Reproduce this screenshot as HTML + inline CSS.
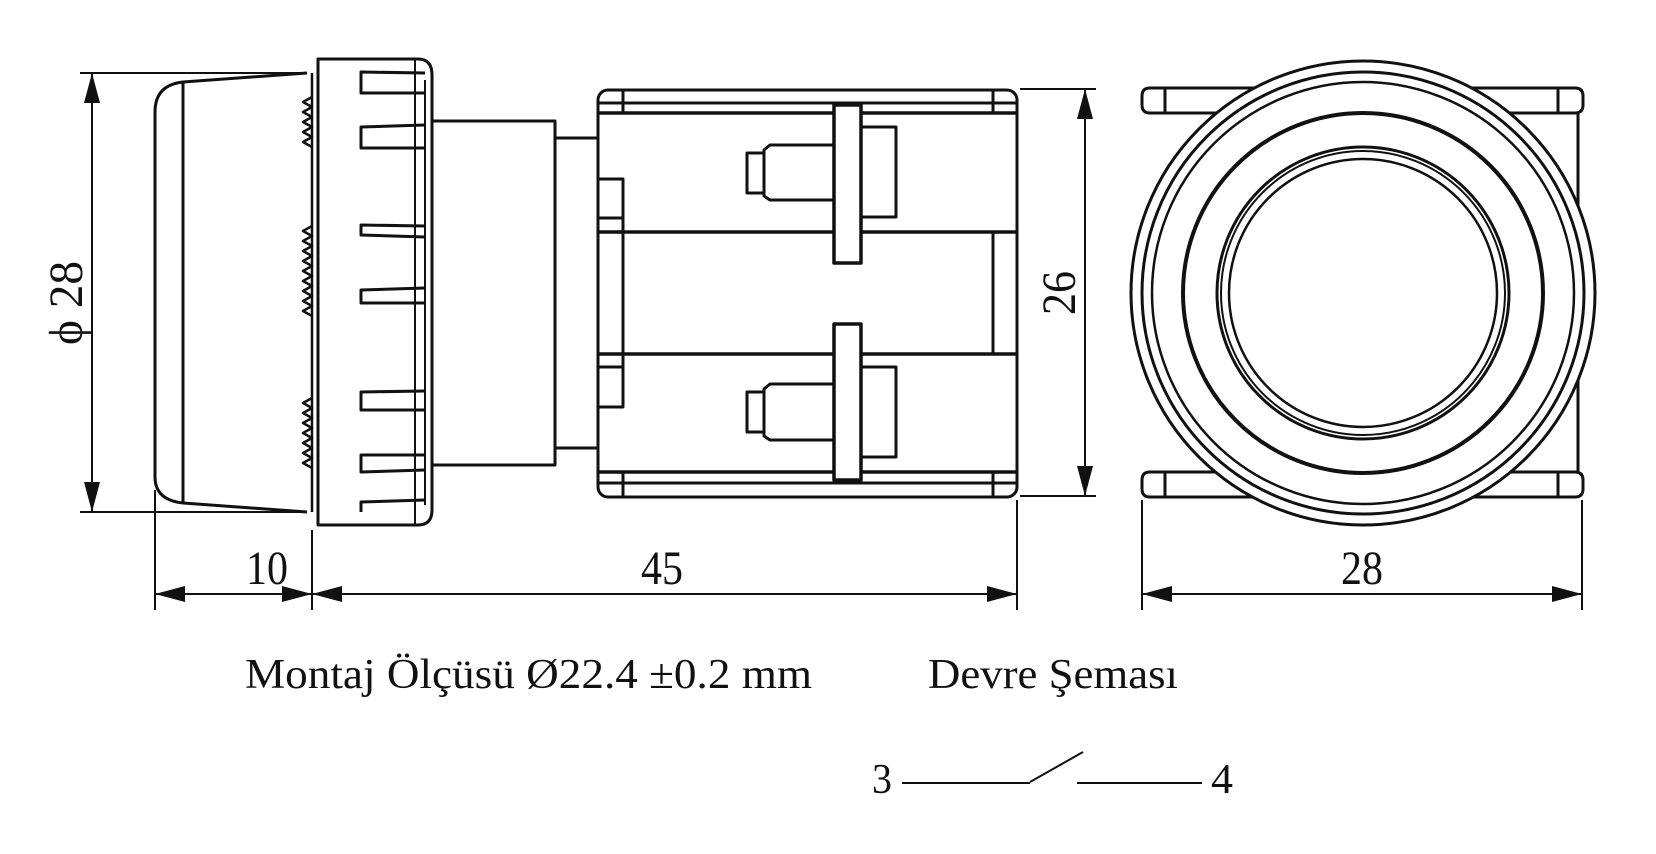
<!DOCTYPE html>
<html><head><meta charset="utf-8"><style>
html,body{margin:0;padding:0;background:#fff;}
svg{display:block;}
text{font-family:"Liberation Serif",serif;fill:#111;}
</style></head><body>
<svg width="1656" height="854" viewBox="0 0 1656 854" xmlns="http://www.w3.org/2000/svg">
<g fill="none" stroke="#111" stroke-width="3" stroke-linejoin="round">
<!-- LEFT VIEW: button -->
<path d="M307,73 L183,82 Q155,85 155,112 L155,477 Q155,500 183,503 L307,512"/>
<line x1="183" y1="82" x2="183" y2="503"/>
<line x1="312" y1="73" x2="312" y2="512" stroke-width="2.5"/>
<path d="M312,97 l-9,5 l9,5 l-9,5 l9,5 l-9,5 l9,5 l-9,5 l9,5 l-9,5 l9,5" stroke-width="2.5"/>
<path d="M312,226 l-9,5 l9,5 l-9,5 l9,5 l-9,5 l9,5 l-9,5 l9,5 l-9,5 l9,5 l-9,5 l9,5 l-9,5 l9,5 l-9,5 l9,5 l-9,5 l9,5" stroke-width="2.5"/>
<path d="M312,398 l-9,5 l9,5 l-9,5 l9,5 l-9,5 l9,5 l-9,5 l9,5 l-9,5 l9,5 l-9,5 l9,5 l-9,5 l9,5" stroke-width="2.5"/>
<!-- ring -->
<path d="M318,59 L418,59 Q432,59 432,75 L432,510 Q432,525 418,525 L318,525 Z"/>
<line x1="415" y1="59" x2="415" y2="525" stroke-width="2"/>
<line x1="425" y1="80" x2="425" y2="505" stroke-width="2"/>
<path d="M425,73 L361,72 L361,93 L425,93"/>
<path d="M425,125 L361,127 L361,148 L425,148"/>
<path d="M425,226 L361,225 L361,235 L425,237"/>
<path d="M425,288 L361,290 L361,303 L425,303"/>
<path d="M425,391 L361,392 L361,410 L425,410"/>
<path d="M425,455 L361,455 L361,472 L425,470"/>
<path d="M425,500 L361,502 L361,512"/>
<!-- shaft -->
<rect x="432" y="121" width="123" height="344"/>
<line x1="555" y1="138" x2="598" y2="138"/>
<line x1="555" y1="448" x2="598" y2="448"/>
<!-- MIDDLE VIEW -->
<rect x="598" y="90" width="419" height="407" rx="10"/>
<line x1="598" y1="103" x2="1017" y2="103"/>
<line x1="598" y1="113" x2="1017" y2="113" stroke-width="3.5"/>
<line x1="598" y1="472" x2="1017" y2="472" stroke-width="3.5"/>
<line x1="598" y1="483" x2="1017" y2="483"/>
<line x1="623" y1="90" x2="623" y2="113"/>
<line x1="993" y1="90" x2="993" y2="113"/>
<line x1="623" y1="472" x2="623" y2="497"/>
<line x1="993" y1="472" x2="993" y2="497"/>
<line x1="598" y1="232" x2="1017" y2="232" stroke-width="3.5"/>
<line x1="598" y1="354" x2="1017" y2="354" stroke-width="3.5"/>
<path d="M598,179 L623,179 L623,407 L598,407"/>
<line x1="598" y1="218" x2="623" y2="218"/>
<line x1="598" y1="367" x2="623" y2="367"/>
<line x1="993" y1="232" x2="993" y2="354"/>
<!-- plunger top -->
<rect x="834" y="105" width="27" height="158" fill="#fff" stroke-width="3.5"/>
<rect x="861" y="127" width="35" height="90"/>
<path d="M834,145 L770,145 L764,150 L764,196 L770,200 L834,200"/>
<rect x="747" y="153" width="17" height="40"/>
<!-- plunger bottom -->
<rect x="834" y="324" width="27" height="156" fill="#fff" stroke-width="3.5"/>
<rect x="861" y="367" width="35" height="90"/>
<path d="M834,384 L770,384 L764,389 L764,436 L770,440 L834,440"/>
<rect x="747" y="392" width="17" height="40"/>
<!-- RIGHT VIEW -->
<path d="M1150,88 L1575,88 Q1583,88 1583,96 L1583,105 Q1583,113 1575,113 L1150,113 Q1142,113 1142,105 L1142,96 Q1142,88 1150,88 Z"/>
<line x1="1165" y1="88" x2="1165" y2="113"/>
<line x1="1558" y1="88" x2="1558" y2="113"/>
<path d="M1150,472 L1575,472 Q1583,472 1583,480 L1583,489 Q1583,497 1575,497 L1150,497 Q1142,497 1142,489 L1142,480 Q1142,472 1150,472 Z"/>
<line x1="1165" y1="472" x2="1165" y2="497"/>
<line x1="1558" y1="472" x2="1558" y2="497"/>
<line x1="1578" y1="113" x2="1578" y2="472"/>
<circle cx="1363" cy="293" r="232" fill="#fff" stroke-width="3"/>
<circle cx="1363" cy="293" r="221" stroke-width="3"/>
<circle cx="1363" cy="293" r="211" stroke-width="2.5"/>
<circle cx="1363" cy="293" r="180" stroke-width="4"/>
<circle cx="1363" cy="293" r="146" stroke-width="3"/>
<circle cx="1363" cy="293" r="142" stroke-width="2"/>
<circle cx="1363" cy="293" r="134" stroke-width="2.5"/>
</g>
<!-- DIMENSIONS -->
<g stroke="#111" stroke-width="2" fill="none">
<line x1="80" y1="73" x2="305" y2="73"/>
<line x1="80" y1="512" x2="305" y2="512"/>
<line x1="92" y1="73" x2="92" y2="512"/>
<line x1="1020" y1="89" x2="1096" y2="89"/>
<line x1="1020" y1="496" x2="1096" y2="496"/>
<line x1="1085" y1="89" x2="1085" y2="496"/>
<line x1="155" y1="490" x2="155" y2="610"/>
<line x1="312" y1="530" x2="312" y2="610"/>
<line x1="1017" y1="500" x2="1017" y2="610"/>
<line x1="1142" y1="500" x2="1142" y2="610"/>
<line x1="1582" y1="500" x2="1582" y2="610"/>
<line x1="155" y1="594" x2="1017" y2="594"/>
<line x1="1142" y1="594" x2="1582" y2="594"/>
<line x1="1030" y1="782" x2="1083" y2="752"/>
<line x1="902" y1="783" x2="1030" y2="783"/>
<line x1="1077" y1="783" x2="1202" y2="783"/>
</g>
<g fill="#111">
<polygon points="92,73 84,103 100,103"/>
<polygon points="92,512 84,482 100,482"/>
<polygon points="1085,89 1077,119 1093,119"/>
<polygon points="1085,496 1077,466 1093,466"/>
<polygon points="155,594 185,586 185,602"/>
<polygon points="312,594 282,586 282,602"/>
<polygon points="312,594 342,586 342,602"/>
<polygon points="1017,594 987,586 987,602"/>
<polygon points="1142,594 1172,586 1172,602"/>
<polygon points="1582,594 1552,586 1552,602"/>
</g>
<g font-size="48">
<text x="246" y="584" textLength="42" lengthAdjust="spacingAndGlyphs">10</text>
<text x="641" y="584" textLength="42" lengthAdjust="spacingAndGlyphs">45</text>
<text x="1341" y="584" textLength="42" lengthAdjust="spacingAndGlyphs">28</text>
<text transform="translate(82,345) rotate(-90)" textLength="84" lengthAdjust="spacingAndGlyphs">ϕ 28</text>
<text transform="translate(1075,315) rotate(-90)" textLength="44" lengthAdjust="spacingAndGlyphs">26</text>
</g>
<g font-size="42">
<text x="245" y="688" textLength="567" lengthAdjust="spacingAndGlyphs">Montaj Ölçüsü Ø22.4 ±0.2 mm</text>
<text x="928" y="688" textLength="250" lengthAdjust="spacingAndGlyphs">Devre Şeması</text>
<text x="872" y="793" textLength="20" lengthAdjust="spacingAndGlyphs">3</text>
<text x="1211" y="793" textLength="22" lengthAdjust="spacingAndGlyphs">4</text>
</g>
</svg>
</body></html>
